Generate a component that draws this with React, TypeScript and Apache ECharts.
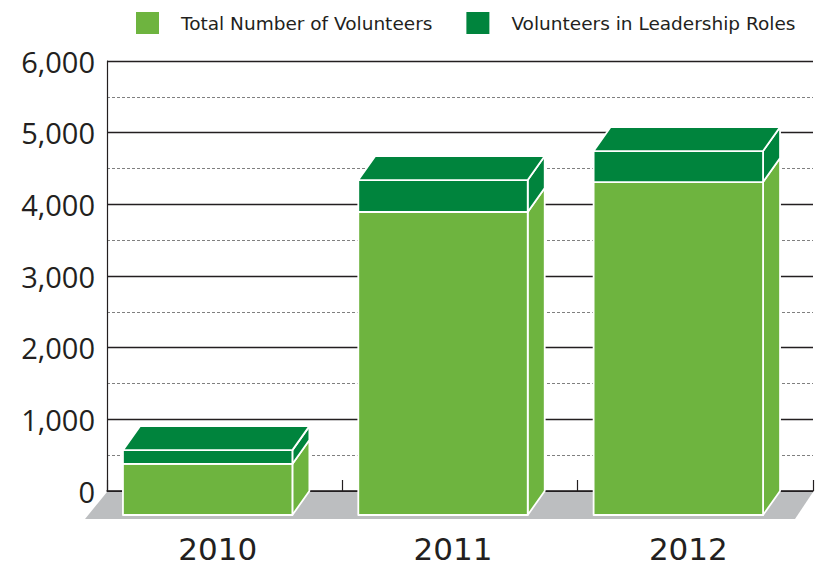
import React, { useEffect, useRef } from "react";
import * as echarts from "echarts";

const years = ["2010", "2011", "2012"];
const totalVolunteers = [712, 4228, 4646];
const leadershipVolunteers = [193, 446, 432];
const yTicks = [0, 6000];

const GREEN = "#6eb43f";
const DARK = "#00843d";
const DX = -17;
const DY = 24;

function boxItem(api: any, color: string, top: boolean) {
  const i = api.value(0);
  const low = api.coord([i, api.value(1)]);
  const high = api.coord([i, api.value(2)]);
  const w = api.size([1, 0])[0] * 0.72;
  const xl = low[0] - w / 2;
  const xr = low[0] + w / 2;
  const style = { fill: color, stroke: "#ffffff", lineWidth: 1.8, lineJoin: "round" };
  const children: any[] = [
    {
      type: "polygon",
      shape: { points: [[xr + DX, low[1] + DY], [xr + DX, high[1] + DY], [xr, high[1]], [xr, low[1]]] },
      style,
    },
    {
      type: "rect",
      shape: { x: xl + DX, y: high[1] + DY, width: w, height: low[1] - high[1] },
      style,
    },
  ];
  if (top) {
    children.push({
      type: "polygon",
      shape: { points: [[xl + DX, high[1] + DY], [xl, high[1]], [xr, high[1]], [xr + DX, high[1] + DY]] },
      style,
    });
  }
  return { type: "group", children };
}

export default function App() {
  const ref = useRef<HTMLDivElement>(null);
  useEffect(() => {
    const chart = echarts.init(ref.current!, undefined, { renderer: "svg" });
    chart.setOption({
      animation: false,
      backgroundColor: "#ffffff",
      textStyle: { color: "#231f20" },
      legend: {
        left: 136,
        top: 12,
        padding: 0,
        itemWidth: 23,
        itemHeight: 22,
        itemGap: 34,
        icon: "rect",
        selectedMode: false,
        textStyle: {
          fontFamily: "DejaVu Sans",
          fontSize: 18.5,
          color: "#231f20",
          padding: [0, 0, 9, 17],
        },
        data: ["Total Number of Volunteers", "Volunteers in Leadership Roles"],
      },
      grid: { left: 107, right: 2, top: 61, height: 430 },
      xAxis: {
        type: "category",
        data: years,
        axisLine: { show: true, lineStyle: { color: "#231f20", width: 1.5 } },
        axisTick: { show: true, inside: true, length: 11, alignWithLabel: false, lineStyle: { color: "#231f20", width: 1.2 } },
        axisLabel: {
          margin: 44,
          fontFamily: "DejaVu Sans",
          fontSize: 31,
          lineHeight: 28,
          color: "#231f20",
          padding: [0, 14, 0, 0],
        },
      },
      yAxis: {
        type: "value",
        min: yTicks[0],
        max: yTicks[1],
        interval: 1000,
        axisLine: { show: true, lineStyle: { color: "#231f20", width: 1.2 } },
        axisTick: { show: false },
        axisLabel: {
          margin: 12,
          fontFamily: "Open Sans",
          fontSize: 29,
          color: "#231f20",
          formatter: (v: number) => v.toLocaleString("en-US"),
        },
        splitLine: { show: true, lineStyle: { color: "#231f20", width: 1.4 } },
        minorTick: { show: false, splitNumber: 2 },
        minorSplitLine: { show: true, lineStyle: { color: "#808080", width: 1.1, type: [3, 2] } },
      },
      series: [
        {
          type: "custom",
          name: "floor",
          z: 1,
          silent: true,
          data: [[0]],
          renderItem: (params: any, api: any) => {
            const cs = params.coordSys;
            const y = api.coord([0, 0])[1] + 1;
            const x0 = cs.x;
            const x1 = cs.x + cs.width;
            return {
              type: "polygon",
              shape: { points: [[x0, y], [x0 - 22, y + 27], [x1 - 18, y + 27], [x1, y]] },
              style: { fill: "#bcbec0" },
            };
          },
        },
        {
          type: "custom",
          name: "Total Number of Volunteers",
          z: 3,
          itemStyle: { color: GREEN },
          encode: { x: 0, y: 2 },
          data: years.map((_, i) => [i, 0, totalVolunteers[i]]),
          renderItem: (_: any, api: any) => boxItem(api, GREEN, false),
        },
        {
          type: "custom",
          name: "Volunteers in Leadership Roles",
          z: 4,
          itemStyle: { color: DARK },
          encode: { x: 0, y: 2 },
          data: years.map((_, i) => [i, totalVolunteers[i], totalVolunteers[i] + leadershipVolunteers[i]]),
          renderItem: (_: any, api: any) => boxItem(api, DARK, true),
        },
      ],
    });
    return () => chart.dispose();
  }, []);
  return <div ref={ref} style={{ position: "fixed", left: 0, top: 0, width: 815, height: 567 }} />;
}
